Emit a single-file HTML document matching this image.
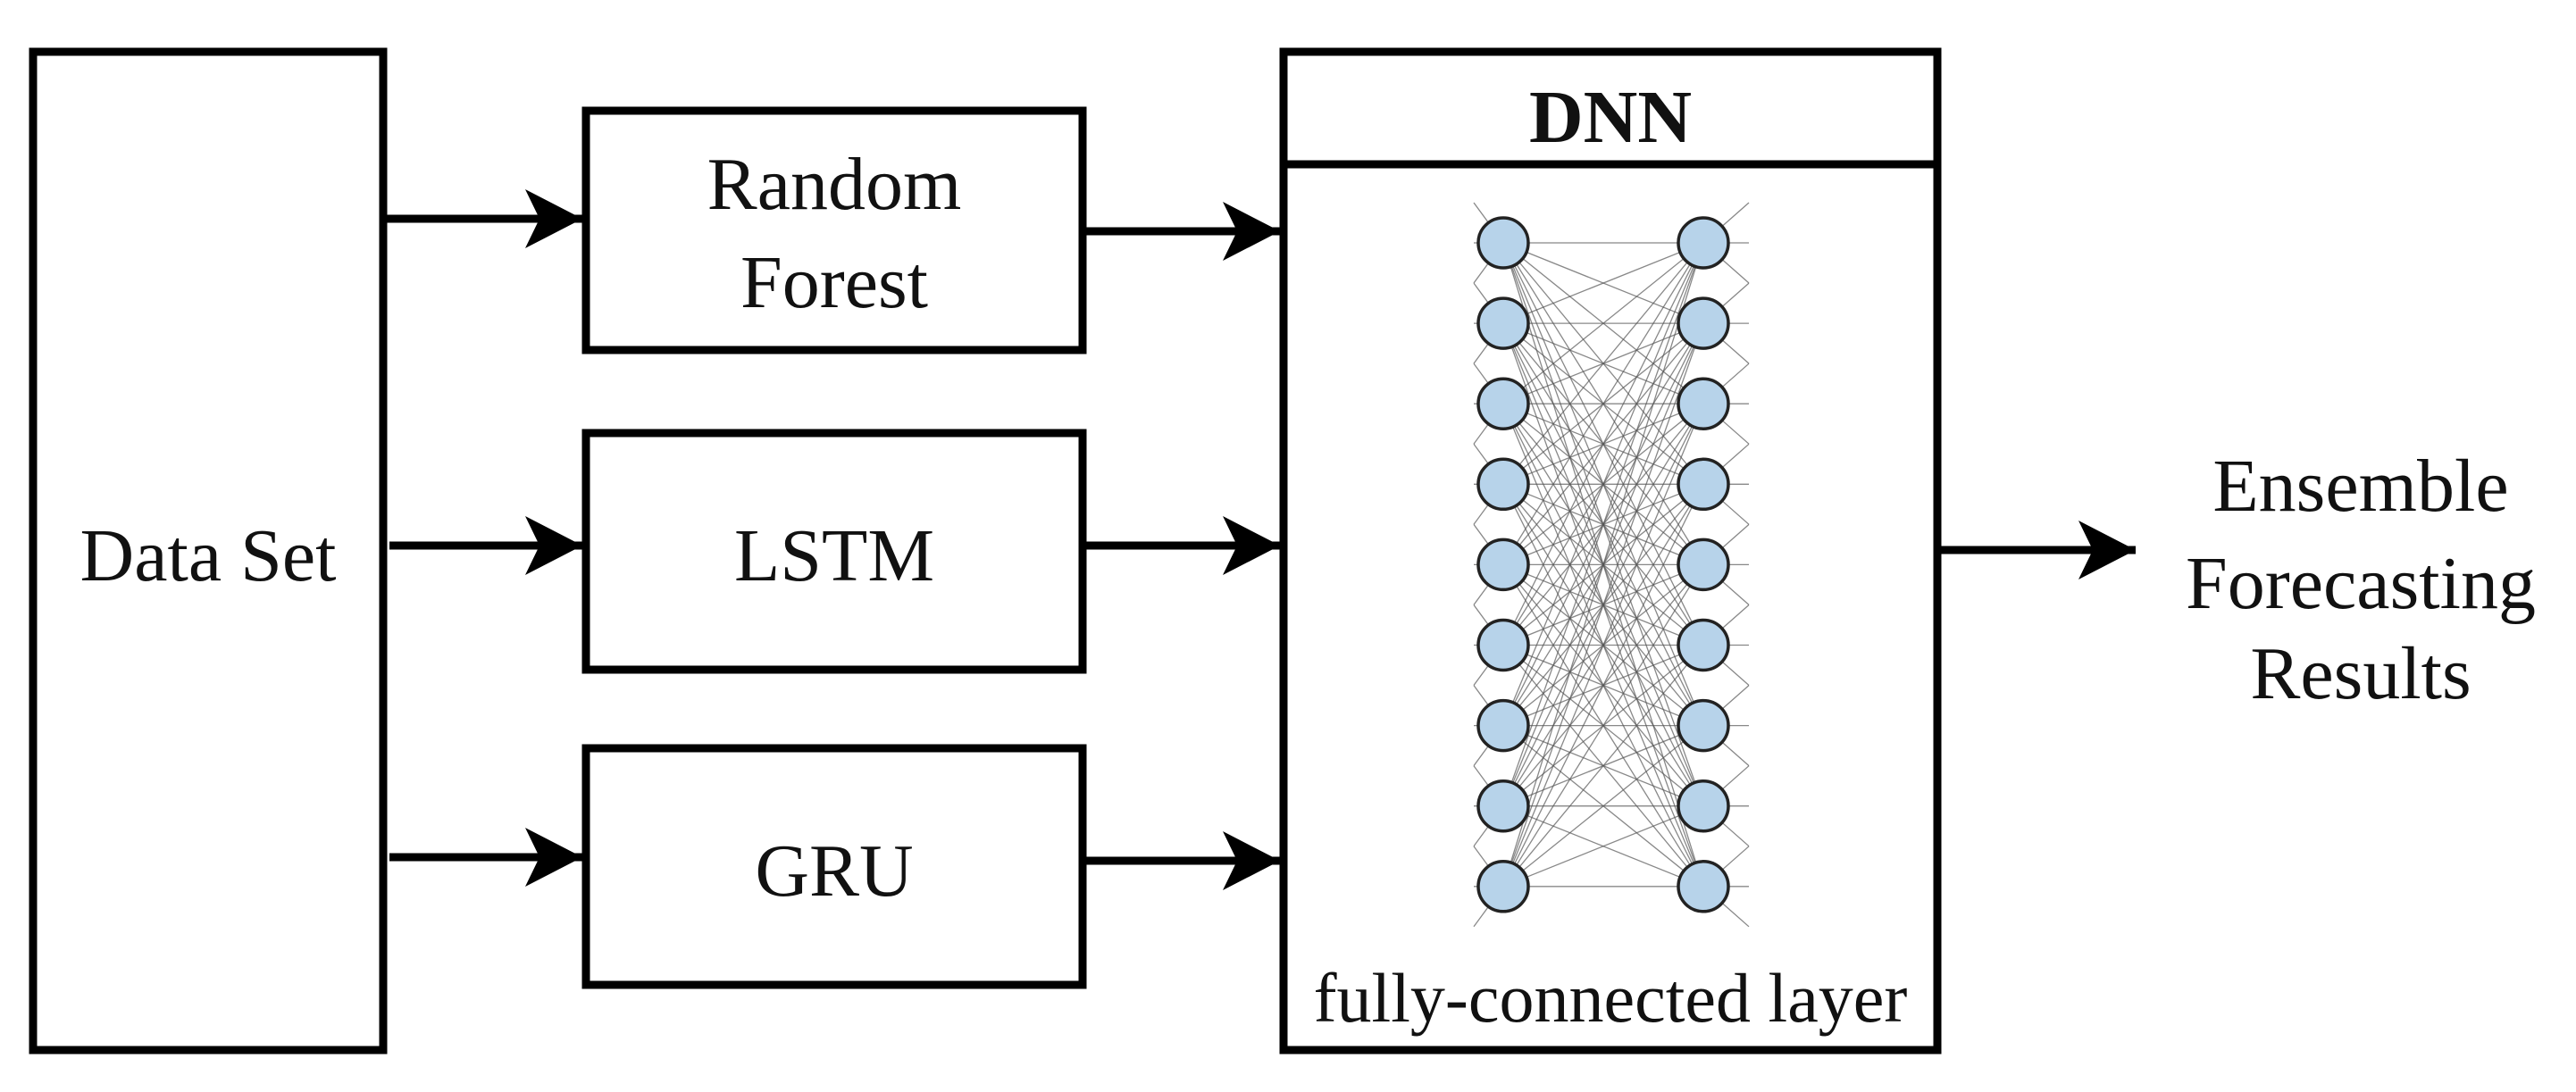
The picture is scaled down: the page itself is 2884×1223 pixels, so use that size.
<!DOCTYPE html>
<html><head><meta charset="utf-8"><style>
html,body{margin:0;padding:0;background:#fff;}
svg{display:block;}
text{font-family:"Liberation Serif",serif;fill:#111;}
</style></head><body>
<svg id="s" width="2884" height="1223" viewBox="0 0 2884 1223" xmlns="http://www.w3.org/2000/svg">
<defs>
<marker id="a" markerUnits="userSpaceOnUse" markerWidth="70" markerHeight="70" refX="64" refY="33" orient="auto">
<path d="M0,0 L64,33 L0,66 L16,33 Z" fill="#000"/>
</marker>
</defs>
<g fill="none" stroke="#000" stroke-width="9">
<rect x="37" y="58" width="392" height="1118"/>
<rect x="656" y="124" width="556" height="268"/>
<rect x="656" y="485" width="556" height="265"/>
<rect x="656" y="838" width="556" height="265"/>
<rect x="1437" y="58" width="732" height="1118"/>
<line x1="1437" y1="184" x2="2169" y2="184"/>
</g>
<g stroke="#000" stroke-width="9" marker-end="url(#a)">
<line x1="433" y1="245" x2="652" y2="245"/>
<line x1="436" y1="611" x2="652" y2="611"/>
<line x1="436" y1="960" x2="652" y2="960"/>
<line x1="1216" y1="259" x2="1433" y2="259"/>
<line x1="1216" y1="611" x2="1433" y2="611"/>
<line x1="1216" y1="964" x2="1433" y2="964"/>
<line x1="2173" y1="616" x2="2391" y2="616"/>
</g>
<g id="net" stroke="#555" stroke-width="1.3" stroke-opacity="0.7"></g>
<g id="nodes" fill="#b7d3ea" stroke="#222" stroke-width="3.5"></g>
<g font-size="84" text-anchor="middle">
<text x="233" y="650">Data Set</text>
<text x="934" y="234">Random</text>
<text x="934" y="344">Forest</text>
<text x="934" y="650">LSTM</text>
<text x="934" y="1003">GRU</text>
<text x="1803" y="159" font-weight="bold" font-size="84">DNN</text>
<text x="1803" y="1144" font-size="78">fully-connected layer</text>
<text x="2643" y="572">Ensemble</text>
<text x="2643" y="681">Forecasting</text>
<text x="2643" y="782">Results</text>
</g>
</svg>
<script>
var net=document.getElementById('net'),nodes=document.getElementById('nodes'),ns='http://www.w3.org/2000/svg';
var L=1683,R=1907,ys=[];for(var i=0;i<9;i++)ys.push(272+i*90.1);
function ln(a,b,c,d){var e=document.createElementNS(ns,'line');e.setAttribute('x1',a);e.setAttribute('y1',b);e.setAttribute('x2',c);e.setAttribute('y2',d);net.appendChild(e);}
for(var i=0;i<9;i++){for(var j=0;j<9;j++){ln(L,ys[i],R,ys[j]);}
 for(var k=-1;k<=1;k++){ln(1650,ys[i]+k*45,L,ys[i]);ln(R,ys[i],1958,ys[i]+k*45);}}
for(var i=0;i<9;i++){[L,R].forEach(function(x){var c=document.createElementNS(ns,'circle');c.setAttribute('cx',x);c.setAttribute('cy',ys[i]);c.setAttribute('r',28);nodes.appendChild(c);});}
</script>
</body></html>
